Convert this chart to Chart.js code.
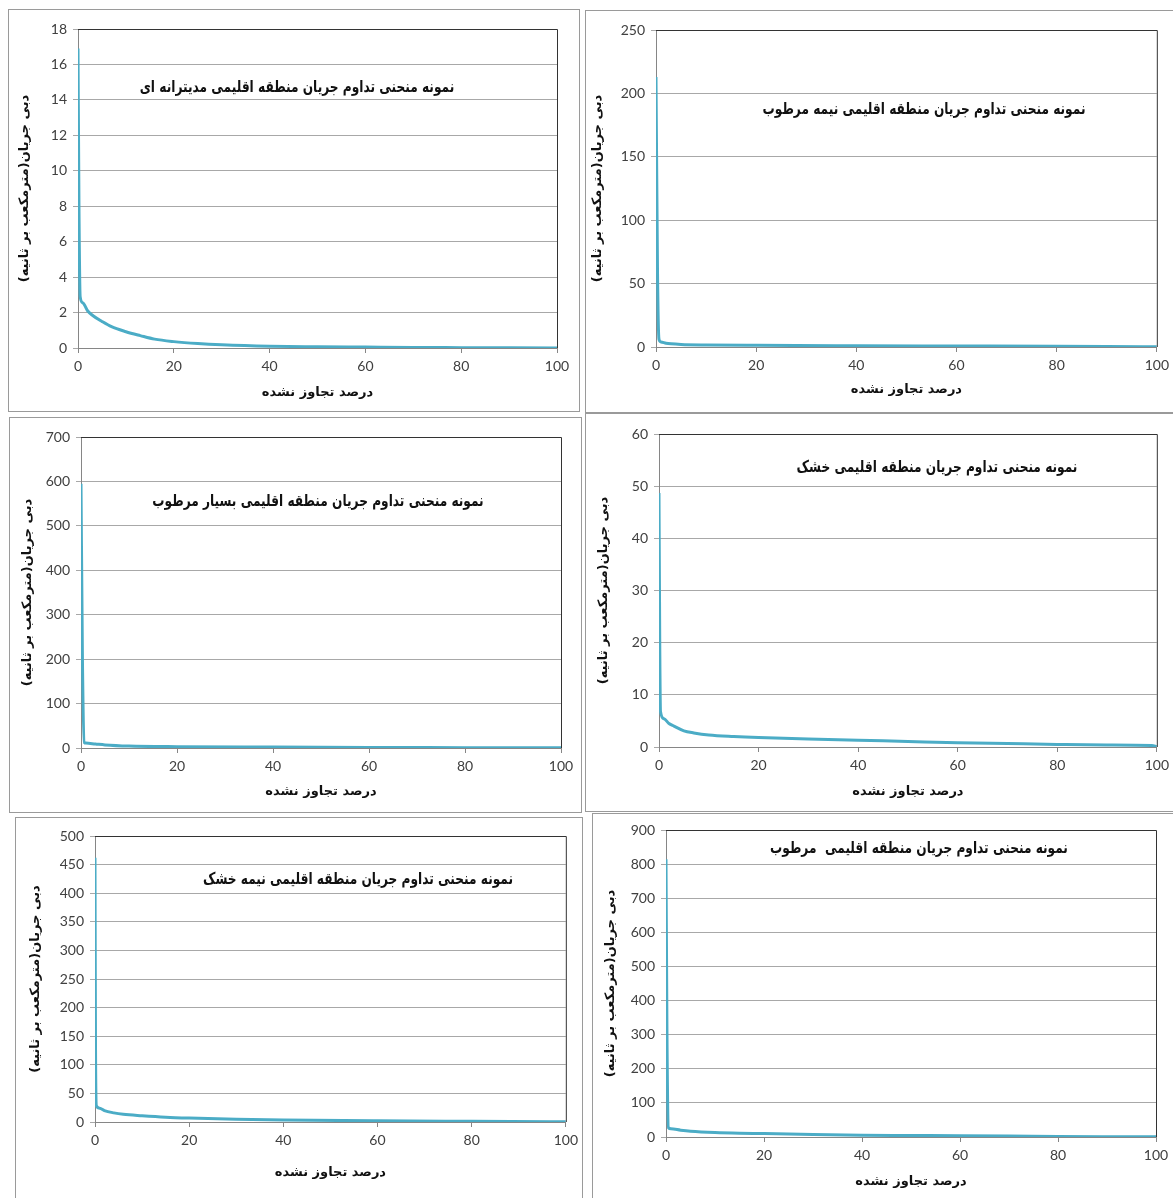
<!DOCTYPE html>
<html>
<head>
<meta charset="utf-8">
<script src="https://cdn.jsdelivr.net/npm/chart.js@4.4.0/dist/chart.umd.min.js"></script>
<style>
  body { margin: 0; background: #fff; width: 1173px; height: 1198px; position: relative; overflow: hidden; }
  .panel { position: absolute; box-sizing: border-box; border: 1px solid #9a9a9a; }
  .panel canvas { position: absolute; left: -1px; top: -1px; }
</style>
</head>
<body>
<script>
// flow duration curves, x = percent not exceeded, y = flow (m3/s)
const medX = [0, 0.2, 0.45, 1, 2, 3, 5, 7, 10, 13, 16, 20, 25, 30, 40, 50, 60, 70, 80, 90, 100];
const medY = [16.9, 8, 2.9, 2.55, 2.1, 1.85, 1.5, 1.2, 0.92, 0.7, 0.5, 0.36, 0.25, 0.18, 0.1, 0.07, 0.05, 0.03, 0.02, 0.01, 0];

const semiHumidX = [0, 0.3, 0.6, 1, 2, 3, 5, 10, 20, 40, 60, 80, 90, 100];
const semiHumidY = [213, 60, 6, 4, 3, 2.5, 2, 1.6, 1.3, 1, 0.8, 0.6, 0.4, 0.1];

const veryHumidX = [0, 0.3, 0.7, 1, 3, 5, 10, 20, 40, 60, 80, 100];
const veryHumidY = [595, 200, 12, 11, 9, 7, 4.5, 3, 2, 1.2, 0.8, 0.3];

const aridX = [0, 0.15, 0.3, 1, 2, 3, 5, 7, 10, 15, 20, 30, 40, 50, 60, 70, 80, 90, 99, 100];
const aridY = [48.7, 20, 6.8, 5.4, 4.5, 4.0, 3.1, 2.7, 2.3, 2.0, 1.8, 1.55, 1.3, 1.05, 0.8, 0.65, 0.5, 0.4, 0.3, 0.05];

const semiAridX = [0, 0.1, 0.3, 1, 2, 4, 6, 10, 15, 20, 30, 40, 60, 80, 100];
const semiAridY = [462, 150, 28, 24, 20, 16, 13.5, 11, 8.5, 7, 5, 3.5, 2, 1.2, 0.5];

const humidX = [0, 0.2, 0.5, 1, 3, 5, 10, 15, 20, 30, 40, 50, 60, 70, 80, 90, 100];
const humidY = [814, 300, 27, 24, 20, 17, 13, 11, 10, 7, 5, 4.5, 4, 3, 1.5, 0.8, 0.5];

const chartTitles = [
  'نمونه منحنی تداوم جریان منطقه اقلیمی مدیترانه ای',
  'نمونه منحنی تداوم جریان منطقه اقلیمی نیمه مرطوب',
  'نمونه منحنی تداوم جریان منطقه اقلیمی بسیار مرطوب',
  'نمونه منحنی تداوم جریان منطقه اقلیمی خشک',
  'نمونه منحنی تداوم جریان منطقه اقلیمی نیمه خشک',
  'نمونه منحنی تداوم جریان منطقه اقلیمی  مرطوب'
];
const yTitle = '\u200Fدبی جریان(مترمکعب بر ثانیه)\u200F';
const xTitle = 'درصد تجاوز نشده';

const yAxisMax = [18, 250, 700, 60, 500, 900];
const yAxisStep = [2, 50, 100, 10, 50, 100];
const xTicks = [0, 20, 40, 60, 80, 100];

const series = [
  [medX, medY], [semiHumidX, semiHumidY], [veryHumidX, veryHumidY],
  [aridX, aridY], [semiAridX, semiAridY], [humidX, humidY]
];

// page layout: outer box, plot area, axis title spots, label centre
const layout = [
  {box: [8, 9, 580, 412],     area: [78, 29, 557, 348],    yt: 25,  xt: 393,  lab: [297, 88]},
  {box: [585, 10, 1174, 413], area: [656, 30, 1162, 347],  yt: 598, xt: 390,  lab: [924, 110]},
  {box: [9, 417, 582, 813],   area: [81, 437, 561, 748],   yt: 28,  xt: 792,  lab: [318, 502]},
  {box: [585, 413, 1174, 812],area: [659, 434, 1160, 747], yt: 604, xt: 792,  lab: [937, 468]},
  {box: [15, 817, 583, 1200], area: [95, 836, 571, 1122],  yt: 36,  xt: 1173, lab: [358, 880]},
  {box: [592, 813, 1174, 1200],area: [666, 830, 1156, 1137],yt: 611, xt: 1182, lab: [919, 849]}
];

const persianFont = 'DejaVu Sans';
const tickFont = {family: 'Lato', size: 14};
const titleFont = {family: persianFont, size: 13, weight: 'bold', lineHeight: 1.2};

// dark top/right edge of the plot area, like excel
const frame = {
  id: 'frame',
  afterDraw(chart) {
    const {ctx, chartArea: a} = chart;
    ctx.save();
    ctx.strokeStyle = '#333';
    ctx.lineWidth = 1;
    ctx.beginPath();
    ctx.moveTo(a.left, a.top + 0.5);
    ctx.lineTo(a.right + 0.5, a.top + 0.5);
    ctx.lineTo(a.right + 0.5, a.bottom);
    ctx.stroke();
    ctx.restore();
  }
};

// text box inside the plot (narrow naskh look -> squeeze horizontally)
const panelLabel = {
  id: 'panelLabel',
  afterDraw(chart, args, opts) {
    const ctx = chart.ctx;
    ctx.save();
    ctx.translate(opts.x, opts.y);
    ctx.scale(0.76, 1);
    ctx.font = 'bold 16px "' + persianFont + '"';
    ctx.fillStyle = '#111';
    ctx.textAlign = 'center';
    ctx.textBaseline = 'middle';
    ctx.direction = 'rtl';
    ctx.fillText(opts.text, 0, 0);
    ctx.restore();
  }
};

layout.forEach((L, i) => {
  const b = L.box, a = L.area;
  const w = b[2] - b[0], h = b[3] - b[1];
  const div = document.createElement('div');
  div.className = 'panel';
  div.style.left = b[0] + 'px';
  div.style.top = b[1] + 'px';
  div.style.width = w + 'px';
  div.style.height = h + 'px';
  const cv = document.createElement('canvas');
  cv.width = w; cv.height = h;
  cv.style.width = w + 'px'; cv.style.height = h + 'px';
  div.appendChild(cv);
  document.body.appendChild(div);

  const xs = series[i][0], ys = series[i][1];
  const half = 13 * 1.2 / 2;

  new Chart(cv, {
    type: 'line',
    data: {
      datasets: [{
        data: xs.map((x, k) => ({x: x, y: ys[k]})),
        borderColor: '#4bacc6',
        borderWidth: 3,
        pointRadius: 0,
        cubicInterpolationMode: 'monotone',
        fill: false
      }]
    },
    options: {
      responsive: false,
      animation: false,
      layout: {padding: {top: a[1] - b[1], right: b[2] - a[2], left: 0, bottom: 0}},
      plugins: {
        legend: {display: false},
        tooltip: {enabled: false},
        panelLabel: {text: chartTitles[i], x: L.lab[0] - b[0], y: L.lab[1] - b[1]}
      },
      scales: {
        x: {
          type: 'linear', min: 0, max: 100,
          afterBuildTicks: s => { s.ticks = xTicks.map(v => ({value: v})); },
          afterFit: s => { s.height = b[3] - a[3]; },
          grid: {drawOnChartArea: false, color: '#868686', tickLength: 5},
          border: {color: '#868686'},
          ticks: {font: tickFont, color: '#404040', padding: 5, maxRotation: 0},
          title: {display: true, text: xTitle, font: titleFont, color: '#111',
                  padding: {top: 0, bottom: (b[3] - L.xt) - half}}
        },
        y: {
          min: 0, max: yAxisMax[i],
          ticks: {stepSize: yAxisStep[i], font: tickFont, color: '#404040', padding: 6},
          afterFit: s => { s.width = a[0] - b[0]; },
          grid: {color: '#a8a8a8', tickLength: 5},
          border: {color: '#868686'},
          title: {display: true, text: yTitle, font: titleFont, color: '#111',
                  padding: {top: (L.yt - b[0]) - half, bottom: 0}}
        }
      }
    },
    plugins: [frame, panelLabel]
  });
});
</script>
</body>
</html>
